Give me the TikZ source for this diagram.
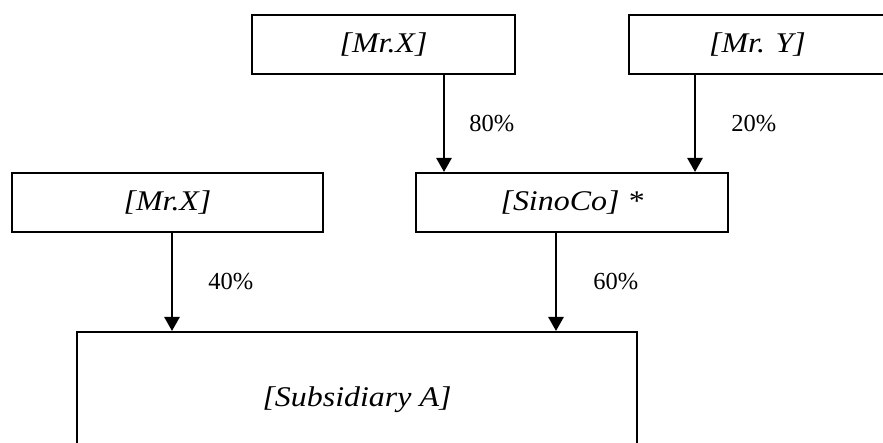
\documentclass[tikz,border=0pt]{standalone}
\usepackage{fontspec}
\setmainfont{Liberation Serif}
\newfontfamily\boxfont[FakeStretch=1.12]{Liberation Serif}
\usetikzlibrary{arrows.meta}

\begin{document}
\begin{tikzpicture}[x=1pt, y=-1pt,
		owner/.style={draw, line width=2pt, inner sep=0pt, minimum height=59pt,
			font=\boxfont\itshape\fontsize{28.5}{31}\selectfont},
		share/.style={line width=2.6pt, -{Triangle[length=14pt, width=15pt]}},
		pct/.style={inner sep=0pt, font=\fontsize{24.5}{28}\selectfont}]
		\useasboundingbox (0,0) rectangle (883,443);
		\clip (0,0) rectangle (883,443);

		\node[owner, minimum width=263pt] (XTop) at (383.5,44.5) {[Mr.X]};
		\node[owner, minimum width=257pt] (YTop) at (757.5,44.5) {[Mr. Y]};
		\node[owner, minimum width=311pt] (XLeft) at (167.5,202.5) {[Mr.X]};
		\node[owner, minimum width=312pt] (Sino) at (572,202.5) {[SinoCo] *};
		\node[owner, minimum width=560pt, minimum height=136pt] (SubA) at (357,400) {[Subsidiary A]};

		\draw[share] (444,0 |- XTop.south) -- (444,0 |- Sino.north)
			node[pct, midway, right=24pt] {80\%};
		\draw[share] (695,0 |- YTop.south) -- (695,0 |- Sino.north)
			node[pct, midway, right=35pt] {20\%};
		\draw[share] (172,0 |- XLeft.south) -- (172,0 |- SubA.north)
			node[pct, midway, right=35pt] {40\%};
		\draw[share] (556,0 |- Sino.south) -- (556,0 |- SubA.north)
			node[pct, midway, right=36pt] {60\%};

	\end{tikzpicture}
\end{document}
